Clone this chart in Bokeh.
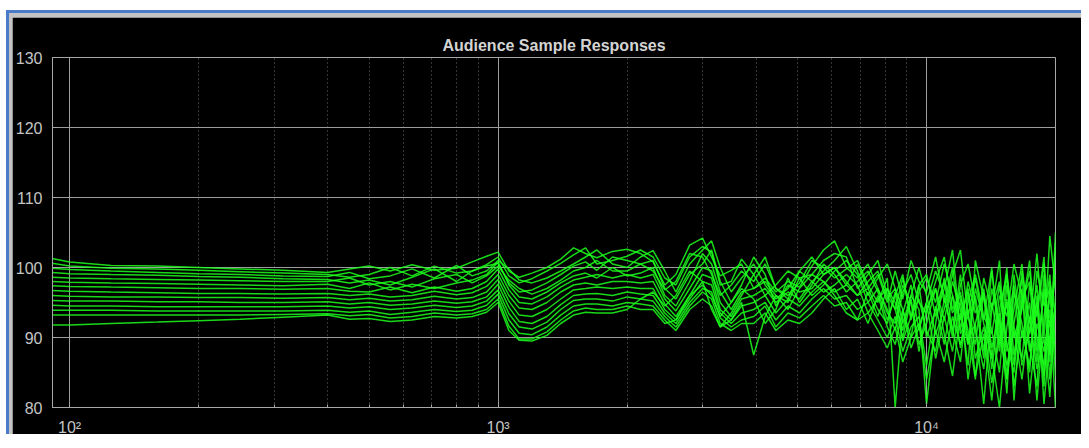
from bokeh.plotting import figure
from bokeh.models import FixedTicker
from bokeh.embed import file_html
from bokeh.resources import INLINE

TITLE = "Audience Sample Responses"

FREQ_HZ = [91, 100, 125, 160, 200, 250, 315, 400,
           450, 500, 560, 630, 710, 800, 870, 940,
           1000, 1060, 1120, 1200, 1300, 1400, 1500, 1600, 1700, 1850,
           2000, 2150, 2300, 2450, 2600, 2800, 3000, 3150, 3300, 3500,
           3700, 3950, 4200, 4450, 4750, 5050, 5400, 5750, 6100, 6500,
           6900, 7300, 7700, 8100, 8450, 8800, 9200, 9600, 10000, 10500,
           11000, 11500, 12000, 12500, 13000, 13600, 14200, 14800, 15400, 16000,
           16700, 17400, 18100, 18800, 19400, 20000]

RESP_01 = [101.3, 100.8, 100.3, 100.2, 100.0, 99.8, 99.6, 99.3,
           99.8, 100.2, 99.5, 100.4, 99.6, 99.9, 100.8, 101.6,
           102.2, 99.5, 98.6, 99.2, 100.0, 101.2, 102.8, 102.0, 101.4, 102.3,
           102.6, 102.0, 100.8, 97.5, 99.0, 103.2, 104.2, 101.5, 98.8, 99.6,
           100.5, 97.0, 98.5, 96.5, 98.0, 97.2, 100.2, 102.5, 103.8, 100.0,
           98.5, 100.5, 97.0, 94.0, 91.0, 96.5, 99.0, 95.0, 93.5, 98.0,
           101.5, 94.0, 96.5, 89.0, 97.0, 92.5, 100.0, 88.0, 95.5, 86.0,
           99.5, 92.0, 102.0, 90.0, 104.5, 97.0]
RESP_02 = [100.6, 100.2, 99.9, 99.8, 99.6, 99.4, 99.2, 99.0,
           98.6, 99.0, 100.0, 98.8, 100.2, 99.2, 99.5, 100.4,
           101.5, 98.8, 97.8, 98.4, 99.5, 100.6, 101.8, 102.8, 100.5, 101.0,
           101.6, 102.5, 101.5, 98.5, 97.5, 101.5, 103.0, 102.2, 97.5, 98.0,
           101.2, 99.0, 96.0, 97.5, 99.5, 98.5, 99.0, 101.0, 102.0, 101.5,
           97.0, 99.0, 101.0, 96.0, 94.0, 98.5, 93.0, 97.5, 99.0, 93.0,
           97.0, 102.5, 91.0, 98.0, 93.5, 96.0, 85.5, 94.0, 99.0, 91.5,
           87.0, 97.5, 93.0, 100.5, 88.0, 102.5]
RESP_03 = [99.9, 99.7, 99.5, 99.3, 99.1, 99.0, 98.8, 98.7,
           99.3, 98.4, 98.8, 99.8, 98.5, 100.3, 98.8, 99.5,
           101.0, 99.8, 98.2, 97.8, 98.5, 99.5, 100.5, 101.5, 102.5, 100.5,
           100.0, 101.5, 102.4, 99.5, 96.5, 100.5, 102.5, 103.8, 100.0, 96.5,
           98.5, 100.5, 97.5, 95.5, 97.0, 99.5, 98.0, 99.5, 101.0, 103.0,
           99.5, 96.0, 98.5, 100.5, 97.0, 92.0, 96.0, 100.0, 96.0, 90.5,
           94.0, 99.0, 102.5, 93.0, 89.0, 98.5, 94.0, 101.0, 84.0, 96.5,
           92.0, 85.0, 99.5, 94.5, 97.0, 89.5]
RESP_04 = [99.3, 99.1, 99.0, 98.9, 98.7, 98.6, 98.4, 98.3,
           97.8, 98.2, 97.5, 98.6, 99.8, 98.0, 99.5, 100.2,
           100.6, 97.8, 96.5, 96.8, 97.8, 99.0, 100.2, 100.8, 99.6, 101.5,
           101.0, 100.5, 99.5, 96.8, 98.0, 102.0, 101.5, 99.0, 96.0, 97.5,
           99.5, 98.0, 100.5, 97.0, 96.0, 97.8, 101.0, 100.0, 98.5, 99.8,
           101.0, 97.5, 95.0, 98.5, 80.0, 93.5, 97.5, 91.0, 95.0, 99.5,
           96.0, 90.0, 97.5, 100.5, 95.0, 87.0, 97.0, 92.0, 100.0, 81.0,
           95.5, 98.0, 86.5, 97.0, 91.5, 99.0]
RESP_05 = [98.6, 98.5, 98.4, 98.3, 98.2, 98.1, 98.0, 98.0,
           98.5, 97.5, 98.0, 97.2, 98.4, 99.0, 97.8, 98.8,
           100.2, 98.2, 97.0, 96.2, 97.0, 98.2, 99.5, 100.0, 101.0, 99.5,
           99.5, 100.5, 101.0, 97.0, 95.5, 99.0, 100.5, 102.5, 98.0, 95.0,
           97.5, 101.5, 99.0, 94.5, 97.5, 96.5, 97.0, 99.0, 100.0, 98.0,
           96.0, 98.0, 99.5, 95.5, 97.0, 94.0, 90.0, 96.5, 98.5, 95.0,
           100.5, 96.0, 88.5, 95.0, 99.0, 93.0, 90.5, 97.5, 88.0, 94.0,
           100.5, 90.5, 95.0, 83.0, 98.0, 93.0]
RESP_06 = [98.0, 97.9, 97.8, 97.7, 97.6, 97.5, 97.4, 97.6,
           97.0, 97.8, 96.8, 97.6, 97.0, 97.8, 98.2, 99.0,
           100.8, 97.5, 95.8, 95.5, 96.5, 97.8, 98.8, 99.2, 98.5, 100.0,
           98.8, 99.2, 100.0, 96.0, 94.5, 98.0, 102.0, 100.5, 96.5, 94.0,
           96.5, 97.0, 98.0, 96.0, 95.0, 98.5, 96.0, 97.5, 99.5, 101.0,
           99.0, 95.0, 97.0, 93.5, 92.0, 97.5, 95.0, 88.0, 94.0, 97.0,
           92.5, 98.0, 94.0, 86.0, 101.0, 95.5, 91.0, 85.0, 97.5, 90.0,
           94.0, 101.0, 88.0, 96.5, 84.0, 96.0]
RESP_07 = [97.4, 97.3, 97.2, 97.1, 97.0, 97.0, 96.9, 97.0,
           96.6, 96.5, 97.2, 96.4, 97.2, 96.6, 97.0, 98.0,
           99.8, 96.8, 95.0, 94.8, 95.8, 97.2, 98.2, 98.6, 99.0, 98.5,
           99.0, 98.5, 99.0, 95.5, 93.8, 97.0, 100.0, 99.5, 95.0, 93.0,
           95.5, 96.0, 97.0, 95.0, 96.5, 95.5, 98.0, 96.5, 97.5, 99.0,
           97.5, 93.5, 95.5, 97.0, 95.0, 91.0, 96.0, 94.0, 80.5, 92.0,
           98.5, 93.5, 96.0, 91.0, 84.0, 97.0, 88.5, 93.5, 82.0, 99.0,
           90.0, 95.0, 81.0, 93.0, 99.0, 87.0]
RESP_08 = [96.7, 96.6, 96.5, 96.4, 96.3, 96.3, 96.2, 96.3,
           96.0, 96.2, 95.8, 96.0, 96.6, 96.1, 96.4, 97.3,
           99.0, 96.0, 94.2, 94.0, 95.0, 96.5, 97.5, 97.8, 97.5, 98.0,
           98.0, 97.8, 98.0, 94.8, 93.0, 96.0, 99.0, 98.5, 94.0, 92.5,
           94.5, 95.0, 96.0, 93.5, 95.5, 94.5, 96.5, 98.0, 96.5, 97.5,
           96.0, 97.0, 94.0, 92.0, 96.5, 89.5, 93.0, 95.5, 91.0, 88.0,
           95.5, 91.0, 99.0, 89.5, 92.0, 80.5, 94.0, 98.0, 89.0, 85.0,
           97.0, 82.0, 92.0, 88.0, 94.0, 80.0]
RESP_09 = [96.0, 95.9, 95.8, 95.8, 95.7, 95.7, 95.6, 95.7,
           95.4, 95.6, 95.2, 95.4, 95.9, 95.5, 95.7, 96.5,
           98.3, 95.2, 93.2, 93.0, 94.0, 95.5, 96.8, 97.0, 97.2, 97.0,
           97.2, 97.0, 97.0, 94.0, 92.5, 95.5, 98.0, 97.5, 93.5, 92.0,
           93.5, 94.0, 95.0, 92.5, 94.5, 93.5, 95.5, 97.0, 95.5, 96.0,
           94.0, 95.0, 92.5, 90.0, 93.0, 88.0, 91.5, 93.0, 86.0, 94.5,
           89.0, 96.0, 92.5, 97.0, 87.0, 91.5, 83.5, 90.0, 95.0, 83.0,
           91.0, 86.0, 96.0, 80.5, 90.0, 94.5]
RESP_10 = [95.3, 95.2, 95.2, 95.1, 95.1, 95.0, 95.0, 95.1,
           94.8, 95.0, 94.6, 94.8, 95.2, 94.9, 95.1, 95.8,
           97.6, 94.3, 92.3, 92.0, 93.0, 94.7, 96.0, 96.2, 96.3, 96.0,
           96.5, 96.2, 96.0, 93.5, 92.0, 95.0, 97.0, 96.5, 92.8, 91.5,
           92.5, 93.0, 94.5, 91.5, 93.5, 92.8, 94.5, 96.0, 94.5, 95.0,
           92.5, 93.5, 91.0, 88.5, 91.5, 86.5, 90.0, 92.0, 84.0, 91.0,
           86.5, 93.0, 89.0, 94.0, 84.5, 90.5, 81.0, 92.5, 86.0, 91.0,
           84.0, 93.0, 85.5, 90.0, 81.5, 95.0]
RESP_11 = [94.6, 94.5, 94.5, 94.4, 94.4, 94.4, 94.4, 94.5,
           94.2, 94.4, 94.0, 94.2, 94.6, 94.3, 94.5, 95.2,
           96.8, 93.4, 91.5, 91.2, 92.2, 94.0, 95.3, 95.5, 95.5, 95.2,
           95.8, 95.5, 95.2, 93.0, 91.5, 94.5, 96.5, 95.5, 92.0, 91.0,
           92.0, 92.0, 93.5, 91.0, 92.5, 92.0, 93.5, 95.5, 97.0, 94.0,
           95.5, 92.0, 96.0, 91.5, 89.0, 94.0, 88.5, 91.5, 95.0, 87.0,
           93.0, 88.0, 95.5, 84.0, 92.0, 96.5, 87.5, 80.0, 91.5, 97.5,
           86.0, 91.0, 97.5, 84.5, 92.5, 88.5]
RESP_12 = [93.9, 93.9, 93.9, 93.8, 93.8, 93.8, 93.8, 93.9,
           93.6, 93.8, 93.3, 93.6, 94.0, 93.7, 93.9, 94.6,
           96.2, 92.5, 90.6, 90.4, 91.5, 93.2, 94.5, 94.8, 94.8, 94.5,
           95.0, 94.8, 94.5, 92.5, 91.0, 94.0, 95.5, 94.5, 91.5, 92.5,
           95.0, 87.5, 93.0, 96.0, 94.0, 97.0, 99.0, 98.0, 96.0, 93.5,
           92.5, 96.5, 93.0, 97.0, 94.0, 90.0, 95.5, 89.0, 92.0, 97.0,
           90.5, 84.5, 93.5, 89.0, 96.0, 88.0, 99.5, 91.0, 84.0, 92.0,
           98.5, 89.0, 83.0, 99.0, 86.5, 103.5]
RESP_13 = [93.2, 93.2, 93.2, 93.2, 93.2, 93.2, 93.3, 93.4,
           93.1, 93.3, 92.8, 93.0, 93.5, 93.2, 93.4, 94.0,
           95.5, 91.6, 89.8, 89.8, 90.8, 92.5, 93.8, 94.2, 94.0, 94.0,
           94.5, 94.0, 94.0, 92.0, 92.5, 96.0, 97.5, 96.0, 93.0, 95.0,
           97.0, 95.5, 92.0, 94.0, 98.5, 95.0, 97.5, 100.5, 99.0, 96.5,
           98.0, 99.5, 96.5, 92.5, 96.0, 99.0, 92.5, 97.5, 90.0, 94.0,
           98.0, 91.0, 86.5, 96.5, 91.0, 85.5, 95.0, 89.0, 99.0, 87.5,
           94.5, 99.5, 90.0, 86.0, 96.5, 84.5]
RESP_14 = [91.8, 91.8, 92.0, 92.2, 92.4, 92.6, 92.9, 93.2,
           92.6, 92.7, 92.3, 92.5, 93.0, 92.8, 93.0, 93.6,
           95.0, 91.0, 89.6, 89.5, 90.3, 92.0, 93.2, 93.6, 93.5, 93.5,
           94.0, 95.5, 96.5, 94.5, 96.0, 99.5, 98.0, 94.0, 91.5, 93.5,
           96.0, 99.0, 101.5, 97.0, 95.5, 99.5, 101.5, 99.0, 100.0, 97.5,
           100.5, 97.0, 99.0, 95.0, 99.5, 95.5, 101.0, 98.0, 96.5, 101.5,
           95.0, 100.0, 90.5, 93.0, 98.5, 92.0, 87.0, 96.0, 93.0, 100.5,
           96.0, 88.0, 94.0, 101.5, 87.5, 105.0]

RESPONSES = [RESP_01, RESP_02, RESP_03, RESP_04, RESP_05, RESP_06, RESP_07,
             RESP_08, RESP_09, RESP_10, RESP_11, RESP_12, RESP_13, RESP_14]

X_MAJOR = [100, 1000, 10000]
X_LABELS = ["10\u00b2", "10\u00b3", "10\u2074"]
Y_TICKS = [80, 90, 100, 110, 120, 130]
X_LIMITS = (91.2, 20000)
Y_LIMITS = (80, 130)

minor = [m * d for d in (100, 1000, 10000) for m in range(2, 10) if m * d < X_LIMITS[1]]

p = figure(width=1075, height=424, x_axis_type="log",
           x_range=X_LIMITS, y_range=Y_LIMITS,
           output_backend="svg", toolbar_location=None,
           background_fill_color="black", border_fill_color="black",
           min_border_left=40, min_border_right=32,
           min_border_top=40, min_border_bottom=34)

p.styles = {"margin-top": "10px", "margin-left": "6px",
            "border-top": "3px solid #4a7cc9",
            "border-left": "3px solid #4a7cc9", "padding-top": "4px",
            "padding-left": "3px",
            "background-color": "#c4c4c4"}

p.title.text = TITLE
p.title.align = "center"
p.title.text_color = "#d4d4d4"
p.title.text_font = "Liberation Sans"
p.title.text_font_size = "16px"
p.title.text_font_style = "bold"
p.title.standoff = 8

p.outline_line_color = "#a8a8a8"
p.outline_line_width = 1

grey = "#a8a8a8"
p.xaxis.ticker = FixedTicker(ticks=X_MAJOR, minor_ticks=minor)
p.xaxis.major_label_overrides = {t: l for t, l in zip(X_MAJOR, X_LABELS)}
p.yaxis.ticker = FixedTicker(ticks=Y_TICKS)
for ax in (p.xaxis, p.yaxis):
    ax.axis_line_color = grey
    ax.major_tick_line_color = grey
    ax.minor_tick_line_color = grey
    ax.major_tick_in = 5
    ax.major_tick_out = 0
    ax.minor_tick_in = 3
    ax.minor_tick_out = 0
    ax.major_label_text_color = "#c4c4c4"
    ax.major_label_text_font = "Liberation Sans"
p.yaxis.major_label_text_font_size = "16px"
p.yaxis.major_label_standoff = 10
p.xaxis.major_label_text_font_size = "16px"
p.xaxis.major_label_standoff = 11

p.xgrid.grid_line_color = "#9c9c9c"
p.xgrid.minor_grid_line_color = "#6a6a6a"
p.xgrid.minor_grid_line_dash = "1 3"
p.ygrid.grid_line_color = "#9c9c9c"

for r in RESPONSES:
    p.line(FREQ_HZ, r, line_color="#1cff1c", line_width=1.5, line_alpha=0.85)

open("out.html", "w").write(file_html(p, INLINE))
